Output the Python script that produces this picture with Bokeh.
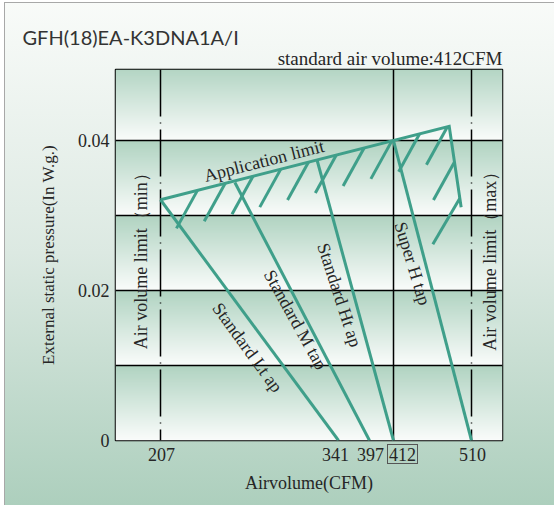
import numpy as np
from bokeh.plotting import figure
from bokeh.models import Range1d, FixedTicker, Title, AllLabels
from bokeh.core.properties import value
from bokeh.embed import file_html
from bokeh.resources import INLINE

# ---------------- data ----------------
tick_cfm = [207, 341, 397, 412, 510]
tick_labels = ["207", "341", "397", "412", "510"]
pressure_ticks = [0, 0.02, 0.04]
pressure_tick_labels = ["0", "0.02", "0.04"]
pressure_grid = [0.01, 0.02, 0.03, 0.04]

tap_names = ["Standard Lt ap", "Standard M tap", "Standard Ht ap", "Super H tap"]
tap_top_cfm = [207, 263, 325, 412]
tap_top_p = [0.0321, 0.0344, 0.0373, 0.0400]
tap_end_cfm = [341, 397, 412, 510]
tap_end_p = [0, 0, 0, 0]

limit_cfm = [207, 482, 497]
limit_p = [0.0321, 0.0419, 0.0311]

min_cfm = 207
std_cfm = 412
max_cfm = 510

title_text = "GFH(18)EA-K3DNA1A/I"
subtitle_text = "standard air volume:412CFM"

# ---------------- layout (schematic axis positions) ----------------
tick_pos = [45, 223, 254, 278, 356]       # where each CFM value sits on the schematic axis
label_pos = [46, 220, 255, 287, 357]      # where each tick label is printed
X_END = 387
Y_TOP = 0.04947

def pos(c):
    return np.interp(np.asarray(c, dtype=float), tick_cfm, tick_pos)

TEAL = "#3f9f8a"
SERIF = "Liberation Serif"
TXT = "#262626"
PX_PER_P = 7500.0  # screen px per unit of pressure (for angles)
FS = "18px"

# page background: soft vertical gradient, thin grey frame at top/left,
# and the small box drawn round the "412" tick label
def rect_layer(x, y, w, h, color):
    return f"linear-gradient({color},{color}) {x}px {y}px / {w}px {h}px no-repeat"

bg_layers = [
    rect_layer(387, 444, 31, 1, "#555"),
    rect_layer(387, 463, 31, 1, "#555"),
    rect_layer(387, 444, 1, 20, "#555"),
    rect_layer(417, 444, 1, 20, "#555"),
    "linear-gradient(#a8a8a8,#a8a8a8) 4px 2px / 100% 1px no-repeat",
    "linear-gradient(#a8a8a8,#a8a8a8) 4px 2px / 1px 100% no-repeat",
    "linear-gradient(#fff,#fff) 0 0 / 100% 2px no-repeat",
    "linear-gradient(#fff,#fff) 0 0 / 4px 100% no-repeat",
    "linear-gradient(to bottom, #f9fbf9 0%, #dce9e2 50%, #adcfbd 100%)",
]

p = figure(width=554, height=505, title=None,
           x_range=Range1d(0, X_END), y_range=Range1d(0, Y_TOP),
           output_backend="svg", toolbar_location=None,
           min_border_left=115, min_border_right=52,
           min_border_top=69, min_border_bottom=65)
p.border_fill_alpha = 0
p.styles = {"background": ", ".join(bg_layers)}
p.xgrid.visible = False
p.ygrid.visible = False
p.outline_line_color = "black"
p.outline_line_width = 1.5

# ---- band gradient background ----
rows = 600
ys = (np.arange(rows) + 0.5) / rows * Y_TOP
frac = (ys % 0.01) / 0.01
dark = np.array([176, 211, 193], dtype=float)
light = np.array([250, 252, 251], dtype=float)
cols = light[None, :] + (dark - light)[None, :] * frac[:, None]
img = np.empty((rows, 2), dtype=np.uint32)
view = img.view(dtype=np.uint8).reshape((rows, 2, 4))
for k in range(3):
    view[:, :, k] = np.round(cols[:, k])[:, None].astype(np.uint8)
view[:, :, 3] = 255
p.image_rgba(image=[img], x=0, y=0, dw=X_END, dh=Y_TOP)

# ---- horizontal grid lines ----
p.segment(x0=[0] * len(pressure_grid), x1=[X_END] * len(pressure_grid),
          y0=pressure_grid, y1=pressure_grid, line_color="black", line_width=1.5)

# ---- vertical reference lines ----
p.segment(x0=pos([min_cfm, max_cfm]), x1=pos([min_cfm, max_cfm]),
          y0=[Y_TOP, Y_TOP], y1=[0, 0], line_color="black", line_width=1.5,
          line_dash="47 6 1 6")
p.segment(x0=pos([std_cfm]), x1=pos([std_cfm]), y0=[Y_TOP], y1=[0],
          line_color="black", line_width=1.5)

# ---- tap lines ----
p.segment(x0=pos(tap_top_cfm), y0=tap_top_p, x1=pos(tap_end_cfm), y1=tap_end_p,
          line_color=TEAL, line_width=3)

# ---- application limit ----
lx = pos(limit_cfm)
p.line(x=lx, y=limit_p, line_color=TEAL, line_width=3, line_join="miter")

# ---- hatching under the limit ----
hx0, hy0, hx1, hy1 = [], [], [], []
def add_hatches(a, b, ts, dx, dy):
    for t in ts:
        sx = lx[a] + t * (lx[b] - lx[a])
        sy = limit_p[a] + t * (limit_p[b] - limit_p[a])
        hx0.append(sx); hy0.append(sy)
        hx1.append(sx + dx); hy1.append(sy + dy)
add_hatches(0, 1, [0.128 + k * 0.0962 for k in range(10)], -21, -38 / PX_PER_P)
add_hatches(1, 2, [0.44], -21, -38 / PX_PER_P)
add_hatches(1, 2, [0.89], -27, -46 / PX_PER_P)
p.segment(x0=hx0, y0=hy0, x1=hx1, y1=hy1, line_color=TEAL, line_width=3)

# ---- in-chart texts ----
app_x = 151
app_y = limit_p[0] + (app_x - lx[0]) * (limit_p[1] - limit_p[0]) / (lx[1] - lx[0])
app_ang = np.arctan2((limit_p[1] - limit_p[0]) * PX_PER_P, lx[1] - lx[0])
p.text(x=[app_x], y=[app_y + 0.0003], text=["Application limit"], angle=[app_ang],
       text_align="center", text_baseline="bottom", text_font=value(SERIF),
       text_font_size=FS, text_color=TXT)

tap_text_x = [132, 180, 224, 297]
tap_text_y = [0.01240, 0.0161, 0.0194, 0.0236]
tap_text_ang = np.radians([-54, -61, -72, -73])
p.text(x=tap_text_x, y=tap_text_y, text=tap_names, angle=tap_text_ang,
       text_align="center", text_baseline="middle", text_font=value(SERIF),
       text_font_size=FS, text_color=TXT)

p.text(x=[25, 374], y=[0.0245, 0.0245],
       text=["Air volume limit（min）", "Air volume limit（max）"],
       angle=[np.pi / 2, np.pi / 2], text_align="center", text_baseline="middle",
       text_font=value(SERIF), text_font_size=FS, text_color=TXT)

# ---- axes ----
xa = p.xaxis[0]
xa.ticker = FixedTicker(ticks=label_pos)
xa.major_label_overrides = {lp: lab for lp, lab in zip(label_pos, tick_labels)}
xa.major_label_policy = AllLabels()
xa.axis_label = "Airvolume(CFM)"
ya = p.yaxis[0]
ya.ticker = FixedTicker(ticks=pressure_ticks)
ya.major_label_overrides = {t: lab for t, lab in zip(pressure_ticks, pressure_tick_labels)}
ya.axis_label = "External static pressure(In W.g.)"
for ax in (xa, ya):
    ax.axis_line_color = None
    ax.major_tick_line_color = None
    ax.minor_tick_line_color = None
    ax.major_tick_out = 0
    ax.major_label_text_font = SERIF
    ax.major_label_text_font_size = FS
    ax.major_label_text_color = TXT
    ax.axis_label_text_font = SERIF
    ax.axis_label_text_font_style = "normal"
    ax.axis_label_text_color = TXT
xa.axis_label_text_font_size = FS
ya.axis_label_text_font_size = "17px"
xa.major_label_standoff = 7
xa.axis_label_standoff = 9
ya.major_label_standoff = 6
ya.axis_label_standoff = 17

# titles (first added sits nearest the frame)
p.add_layout(Title(text=subtitle_text, align="right", text_font=SERIF,
                   text_font_size="19px", text_font_style="normal", text_color=TXT,
                   standoff=2), "above")
p.add_layout(Title(text=title_text, align="left", offset=-93, text_font="Lato",
                   text_font_size="20px", text_font_style="normal",
                   text_color="#333333", standoff=-8), "above")

open("out.html", "w").write(file_html(p, INLINE))
